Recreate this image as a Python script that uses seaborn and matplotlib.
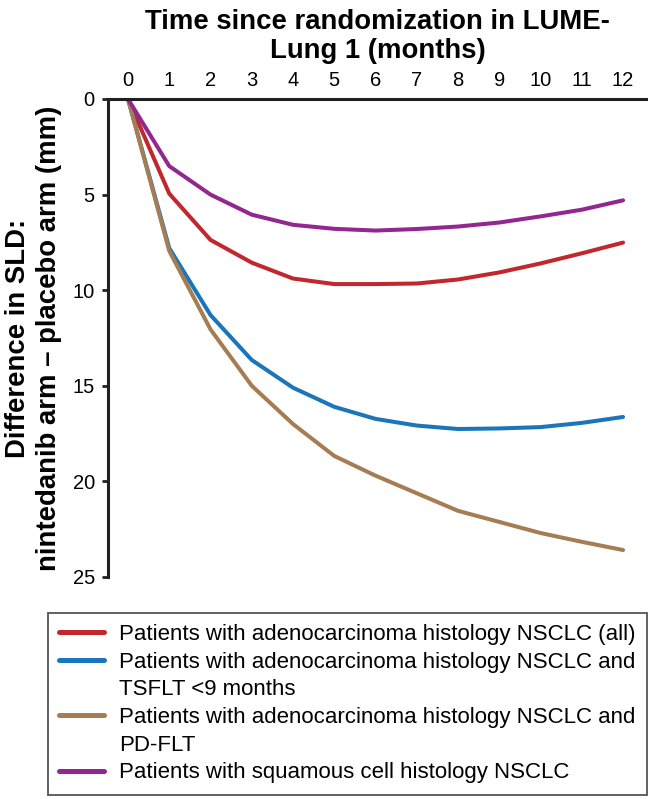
import numpy as np
import pandas as pd
import matplotlib
matplotlib.use("Agg")
import matplotlib.pyplot as plt
from matplotlib.lines import Line2D
import seaborn as sns

# --------------------------------
# Data
# --------------------------------

months = [0, 1, 2, 3, 4, 5, 6, 7, 8, 9, 10, 11, 12]

adeno_all = [0, 4.95, 7.37, 8.56, 9.39, 9.68, 9.68, 9.65, 9.44, 9.07, 8.6, 8.07, 7.51]
adeno_tsflt = [0, 7.8, 11.3, 13.65, 15.1, 16.1, 16.73, 17.08, 17.26, 17.23, 17.16, 16.94, 16.63]
adeno_pdflt = [0, 7.95, 12.05, 15.0, 17.0, 18.67, 19.7, 20.62, 21.54, 22.12, 22.7, 23.16, 23.59]
squamous = [0, 3.51, 5.0, 6.05, 6.58, 6.79, 6.88, 6.8, 6.67, 6.46, 6.14, 5.79, 5.3]

groups = ["adeno_all", "adeno_tsflt", "adeno_pdflt", "squamous"]
labels = [
    ["Patients with adenocarcinoma histology NSCLC (all)"],
    ["Patients with adenocarcinoma histology NSCLC and", "TSFLT <9 months"],
    ["Patients with adenocarcinoma histology NSCLC and", "PD-FLT"],
    ["Patients with squamous cell histology NSCLC"],
]
colors = {
    "adeno_all": "#C1272D",
    "adeno_tsflt": "#1B75BB",
    "adeno_pdflt": "#A67C52",
    "squamous": "#92278F",
}

series = {
    "adeno_all": adeno_all,
    "adeno_tsflt": adeno_tsflt,
    "adeno_pdflt": adeno_pdflt,
    "squamous": squamous,
}

df = pd.concat(
    [pd.DataFrame({"month": months, "diff": vals, "group": g}) for g, vals in series.items()],
    ignore_index=True,
)

# --------------------------------
# Style
# --------------------------------

sns.set_style("white")
plt.rcParams["font.family"] = ["Liberation Sans", "DejaVu Sans"]
plt.rcParams["text.color"] = "black"
plt.rcParams["axes.labelcolor"] = "black"

fig = plt.figure(figsize=(6.48, 7.99), dpi=100)
ax = fig.add_axes([108 / 648, 1 - 577 / 799, (647 - 108) / 648, (577 - 99) / 799])

sns.lineplot(
    data=df, x="month", y="diff", hue="group", hue_order=groups,
    palette=colors, linewidth=2.9, legend=False, ax=ax,
)

# --------------------------------
# Axes
# --------------------------------

ax.set_xlim(-0.485, 12.58)
ax.set_ylim(25, 0)
ax.set_xticks(months)
ax.set_yticks([0, 5, 10, 15, 20, 25])

ax.xaxis.tick_top()
ax.xaxis.set_label_position("top")

for side in ["right", "bottom"]:
    ax.spines[side].set_visible(False)
for side in ["top", "left"]:
    ax.spines[side].set_linewidth(2.2)
    ax.spines[side].set_color("#231F20")

ax.tick_params(axis="x", length=0, pad=6.5, labelsize=14.5, labelcolor="black")
ax.tick_params(axis="y", length=4.5, width=2.0, pad=5.0, labelsize=14.5,
               color="#231F20", labelcolor="black", left=True)

ax.set_xlabel("Time since randomization in LUME-\nLung 1 (months)",
              fontsize=19.8, fontweight="bold", labelpad=9, linespacing=1.15)
ax.set_ylabel("Difference in SLD:\nnintedanib arm \u2013 placebo arm (mm)",
              fontsize=19.8, fontweight="bold", linespacing=1.27)
ax.yaxis.set_label_coords((62 - 108) / 539, 0.5)
ax.grid(False)

# --------------------------------
# Legend (handle on first line of each entry)
# --------------------------------

handles = []
texts = []
for g, lab in zip(groups, labels):
    handles.append(Line2D([], [], color=colors[g], linewidth=3.6))
    texts.append(lab[0])
    for extra in lab[1:]:
        handles.append(Line2D([], [], color="none"))
        texts.append(extra)

leg = fig.legend(
    handles, texts,
    loc="upper right", bbox_to_anchor=(647 / 648, 1 - 613 / 799),
    fontsize=16, frameon=True, fancybox=False, framealpha=1,
    edgecolor="#555555", handlelength=2.0, handletextpad=0.7,
    labelspacing=0.3, borderpad=0.5, borderaxespad=0,
)
leg.get_frame().set_linewidth(1.3)

fig.savefig("out.png", dpi=100)
